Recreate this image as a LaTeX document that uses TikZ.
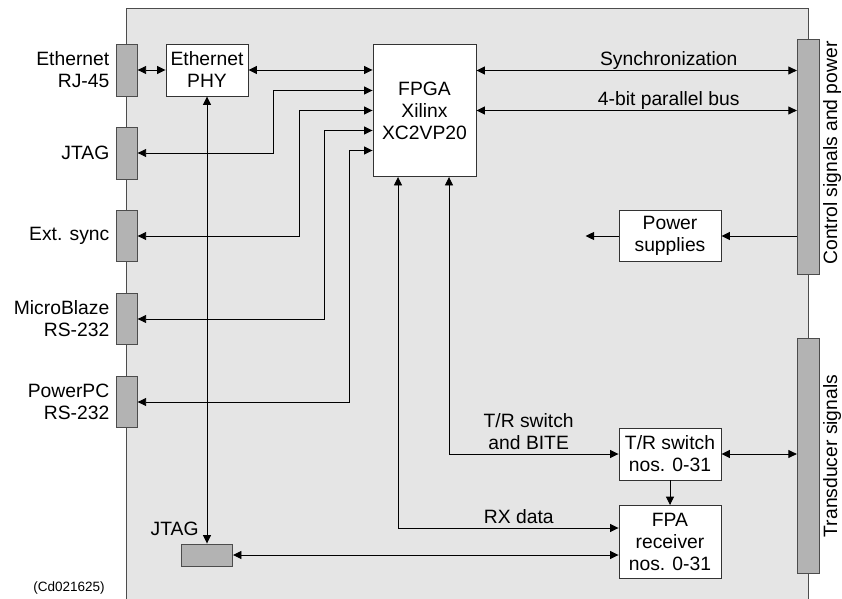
\documentclass[tikz,border=0pt]{standalone}
\usepackage{fontspec}
\setmainfont{Liberation Sans}
\usetikzlibrary{positioning,arrows.meta}
\definecolor{boardgray}{HTML}{E5E5E5}
\definecolor{portgray}{HTML}{B3B3B3}

\begin{document}
\begin{tikzpicture}[
  x=1bp, y=-1bp,
  >={Triangle[length=8.5bp,width=8bp]},
  line width=0.9bp,
  box/.style={draw=black!80, fill=white, align=center, inner sep=2bp, font=\fontsize{19.3bp}{22bp}\selectfont},
  port/.style={draw=black!70, fill=portgray, inner sep=0pt},
  lab/.style={align=right, inner sep=0pt, font=\fontsize{19.3bp}{22bp}\selectfont},
  sig/.style={above, align=center, text depth=0pt, inner sep=4.5bp, font=\fontsize{19.3bp}{22bp}\selectfont},
  barlab/.style={rotate=90, anchor=north, inner sep=3bp, font=\fontsize{19.3bp}{22bp}\selectfont}
]
\useasboundingbox (0,0) rectangle (842,599);

% Board
\filldraw[draw=black!70, fill=boardgray] (126,8) rectangle (808,620);

% Left connectors
\node[port, minimum width=21bp, minimum height=52bp] (rj45) at (126.7,70) {};
\node[port, minimum width=21bp, minimum height=52bp] (jtag1) at (126.7,153) {};
\node[port, minimum width=21bp, minimum height=51bp] (sync) at (126.7,236) {};
\node[port, minimum width=21bp, minimum height=51bp] (mblaze) at (126.7,319) {};
\node[port, minimum width=21bp, minimum height=51bp] (ppc) at (126.7,402) {};
\node[lab, left=6bp of rj45] (rj45lab) {Ethernet\\RJ-45};
\node[lab, left=6bp of jtag1] (jtag1lab) {JTAG};
\node[lab, left=6bp of sync] (synclab) {Ext. sync};
\node[lab, left=6bp of mblaze] (mblazelab) {MicroBlaze\\RS-232};
\node[lab, left=6bp of ppc] (ppclab) {PowerPC\\RS-232};

% Boxes
\node[box, minimum width=82bp, minimum height=52bp] (phy) at (207,70) {Ethernet\\PHY};
\node[box, minimum width=103bp, minimum height=132bp] (fpga) at (424.5,110.5) {FPGA\\Xilinx\\XC2VP20};
\node[box, minimum width=102bp, minimum height=51bp] (psu) at (670,236) {Power\\supplies};
\node[box, minimum width=102bp, minimum height=52bp] (trsw) at (670,454) {T/R switch\\nos. 0-31};
\node[box, minimum width=102bp, minimum height=73bp] (fpa) at (670,542) {FPA\\receiver\\nos. 0-31};

% JTAG header at the bottom
\node[port, minimum width=51bp, minimum height=22bp] (jtag2) at (207,555) {};
\node[lab, above left=7bp and 8bp of jtag2.north] (jtag2lab) {JTAG};

% Right-hand connectors
\node[port, minimum width=22bp, minimum height=235bp] (ctrl) at (808.3,157) {};
\node[port, minimum width=22bp, minimum height=235bp] (trans) at (808.3,456) {};
\node[barlab] (ctrllab) at ([yshift=4bp]ctrl.east) {Control signals and power};
\node[barlab] (translab) at (trans.east) {Transducer signals};

% Ethernet path
\draw[<->] (rj45.east) -- (phy.west);
\draw[<->] (phy.east) -- (phy.east -| fpga.west);
\draw[<->] (phy.south) -- (jtag2.north);

% FPGA to left connectors
\draw[<->] ([yshift=20bp]fpga.west) -| ([xshift=136bp]jtag1.east) -- (jtag1.east);
\draw[<->] (fpga.west) -| ([xshift=161.5bp]sync.east) -- (sync.east);
\draw[<->] ([yshift=-20bp]fpga.west) -| ([xshift=187bp]mblaze.east) -- (mblaze.east);
\draw[<->] ([yshift=-40bp]fpga.west) -| ([xshift=212bp]ppc.east) -- (ppc.east);

% FPGA to control connector
\coordinate (syncL) at ([yshift=40bp]fpga.east);
\draw[<->] (syncL) -- (syncL -| ctrl.west) node[sig, pos=0.6] {Synchronization};
\draw[<->] (fpga.east) -- (fpga.east -| ctrl.west) node[sig, pos=0.6] {4-bit parallel bus};

% Power
\draw[->] (ctrl.west |- psu.east) -- (psu.east);
\draw[->] (psu.west) -- ++(-33,0);

% Front end
\draw[<->] ([xshift=24.5bp]fpga.south) |- (trsw.west) node[sig, pos=0.735] {T/R switch\\and BITE};
\draw[<->] ([xshift=-26.5bp]fpga.south) |- ([yshift=14bp]fpa.west) node[sig, pos=0.774] {RX data};
\draw[->] (trsw.south) -- (fpa.north);
\draw[<->] (trsw.east) -- (trsw.east -| trans.west);
\draw[<->] (jtag2.east) -- (jtag2.east -| fpa.west);

% Drawing number
\node[font=\fontsize{13.5bp}{16bp}\selectfont] (docid) at (69,588) {(Cd021625)};
\end{tikzpicture}
\end{document}
